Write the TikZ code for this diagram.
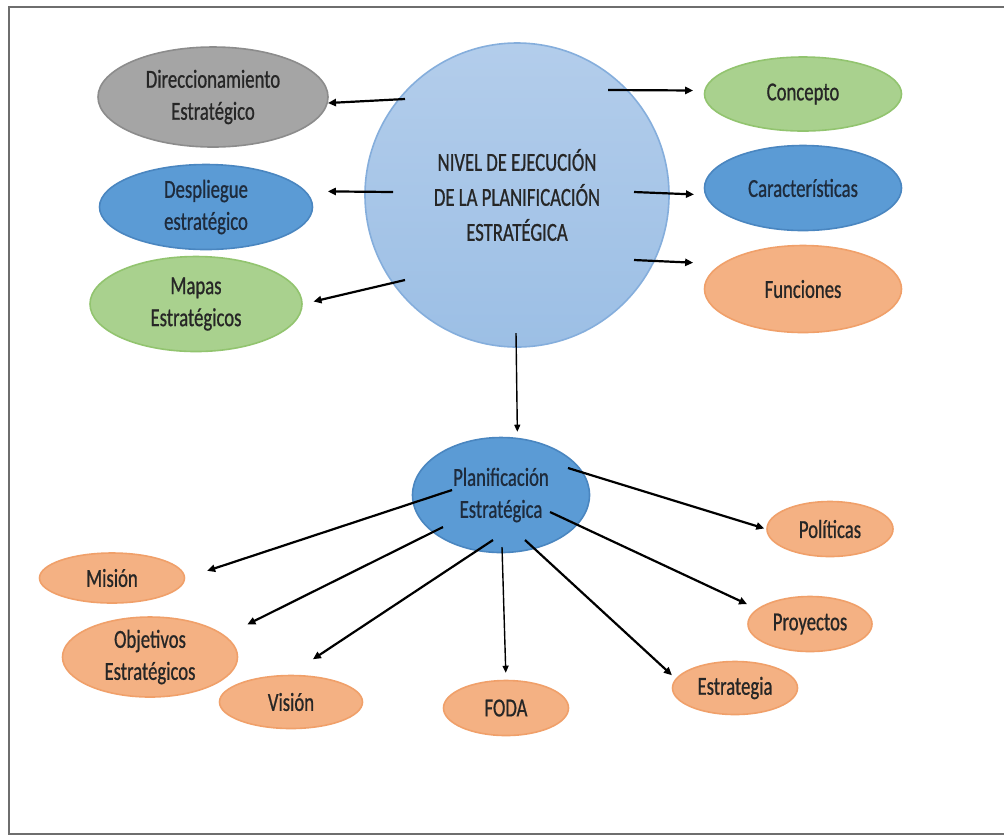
\documentclass[tikz,border=0pt]{standalone}
\usepackage{fontspec}
\setmainfont{Carlito}[FakeStretch=0.72, FakeBold=0.7]
\usetikzlibrary{shapes.geometric,arrows.meta}

\definecolor{txt}{HTML}{262626}
\definecolor{navytxt}{HTML}{1E2B3C}
\definecolor{grayfill}{HTML}{A5A5A5}
\definecolor{grayline}{HTML}{8C8C8C}
\definecolor{bluefill}{HTML}{5B9BD5}
\definecolor{blueline}{HTML}{4A86C0}
\definecolor{greenfill}{HTML}{A9D18E}
\definecolor{greenline}{HTML}{92C46F}
\definecolor{orangefill}{HTML}{F4B183}
\definecolor{orangeline}{HTML}{F0A06A}
\definecolor{hubtop}{HTML}{B3CDEB}
\definecolor{hubbot}{HTML}{9CBFE5}
\definecolor{hubline}{HTML}{85AEDC}
\definecolor{frame}{HTML}{6E6E6E}

\tikzset{
  bubble/.style={ellipse, inner sep=0pt, line width=0.8pt, align=center,
    text=txt, font=\fontsize{13}{16}\selectfont},
  graybub/.style={bubble, fill=grayfill, draw=grayline},
  bluebub/.style={bubble, fill=bluefill, draw=blueline, text=navytxt},
  greenbub/.style={bubble, fill=greenfill, draw=greenline},
  orangebub/.style={bubble, fill=orangefill, draw=orangeline},
  hubstyle/.style={circle, inner sep=0pt, minimum size=152pt, line width=0.8pt,
    draw=hubline, top color=hubtop, bottom color=hubbot, align=center,
    text=txt, font=\fontsize{13}{17.5}\selectfont},
  arr/.style={line width=1.1pt, -{Triangle[length=4pt,width=3.6pt]}},
  thinarr/.style={line width=0.7pt, -{Triangle[length=3.5pt,width=3pt]}},
}

\begin{document}
\begin{tikzpicture}[x=0.5pt, y=-0.5pt]
\useasboundingbox (0,0) rectangle (1004,837);
\fill[white] (0,0) rectangle (1004,837);

% outer frame (open on the right)
\draw[line width=1.1pt, draw=frame] (1004,7) -- (9,7) -- (9,834) -- (1004,834);

% central hub
\node[hubstyle] (hub) at (517,195)
  {NIVEL DE EJECUCIÓN\\DE LA PLANIFICACIÓN\\ESTRATÉGICA};

% left column
\node[graybub, minimum width=115pt, minimum height=50pt] (dir) at (213,97)
  {Direccionamiento\\Estratégico};
\node[bluebub, minimum width=106.5pt, minimum height=42.5pt] (desp) at (206,207)
  {Despliegue\\estratégico};
\node[greenbub, minimum width=106pt, minimum height=47.5pt] (mapas) at (196,304)
  {Mapas\\Estratégicos};

% right column
\node[greenbub, minimum width=98.5pt, minimum height=37pt] (conc) at (803,94)
  {Concepto};
\node[bluebub, minimum width=98.5pt, minimum height=42.5pt] (car) at (803,188)
  {Características};
\node[orangebub, minimum width=98.5pt, minimum height=43.5pt] (fun) at (803,289)
  {Funciones};

% second level
\node[bluebub, minimum width=88.5pt, minimum height=57.5pt] (plan) at (501,495)
  {Planificación\\Estratégica};

\node[orangebub, minimum width=72.5pt, minimum height=25pt] (mis) at (112,578) {Misión};
\node[orangebub, minimum width=87.5pt, minimum height=40pt] (obj) at (150,657)
  {Objetivos\\Estratégicos};
\node[orangebub, minimum width=71.5pt, minimum height=26.5pt] (vis) at (291,702) {Visión};
\node[orangebub, minimum width=62.5pt, minimum height=27.5pt] (foda) at (506,708) {FODA};
\node[orangebub, minimum width=62.5pt, minimum height=26.5pt] (est) at (735,688) {Estrategia};
\node[orangebub, minimum width=62pt, minimum height=27.5pt] (proy) at (810,624) {Proyectos};
\node[orangebub, minimum width=63pt, minimum height=27.5pt] (pol) at (830,529) {Políticas};

% arrow origins inside the hub and the planning bubble
\coordinate (sDir) at (405,99);
\coordinate (sDesp) at (393,192);
\coordinate (sMap) at (405,280);
\coordinate (sConc) at (608,90);
\coordinate (sCar) at (634,192);
\coordinate (sFun) at (634,260);
\coordinate (sDown) at (516,333);
\coordinate (sMis) at (452,490);
\coordinate (sObj) at (443,527);
\coordinate (sVis) at (493,540);
\coordinate (sFoda) at (502,547);
\coordinate (sEst) at (525,540);
\coordinate (sProy) at (550,512);
\coordinate (sPol) at (568,468);

% hub connectors
\draw[arr] (sDir) -- (dir.-3);
\draw[arr, shorten >=11pt] (sDesp) -- (desp.9);
\draw[arr, shorten >=5.5pt] (sMap) -- (mapas.east);
\draw[arr, shorten >=5.5pt] (sConc) -- (conc.178);
\draw[arr, shorten >=5.5pt] (sCar) -- (car.184);
\draw[arr, shorten >=14pt] (sFun) -- (fun.163);
\draw[thinarr, shorten >=3pt] (sDown) -- (plan.74);

% planning connectors
\draw[arr, shorten >=11.5pt] (sMis) -- (mis.east);
\draw[arr, shorten >=12.5pt] (sObj) -- (obj.16);
\draw[arr, shorten >=14pt] (sVis) -- (vis.93);
\draw[thinarr, shorten >=3.5pt] (sFoda) -- (foda.north);
\draw[arr, shorten >=2.5pt] (sEst) -- (est.171);
\draw[arr, shorten >=5.5pt] (sProy) -- (proy.164);
\draw[arr, shorten >=1pt] (sPol) -- (pol.west);
\end{tikzpicture}
\end{document}
